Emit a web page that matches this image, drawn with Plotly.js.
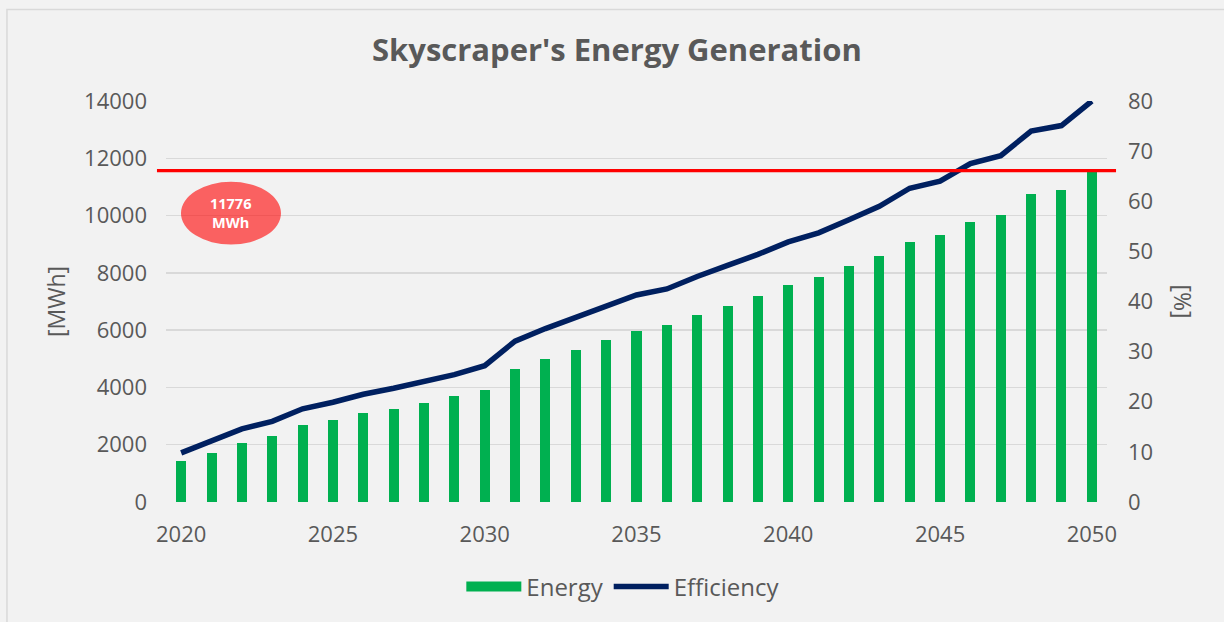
<!DOCTYPE html>
<html>
<head>
<meta charset="utf-8">
<script src="https://cdn.plot.ly/plotly-3.0.1.min.js"></script>
<style>
html,body{margin:0;padding:0;background:#f2f2f2;}
#chart{width:1224px;height:622px;}
</style>
</head>
<body>
<div id="chart"></div>
<script>
const years = [2020,2021,2022,2023,2024,2025,2026,2027,2028,2029,2030,2031,2032,2033,2034,2035,2036,2037,2038,2039,2040,2041,2042,2043,2044,2045,2046,2047,2048,2049,2050];
const energy = [1430,1720,2050,2310,2680,2870,3100,3250,3470,3715,3925,4630,5010,5320,5670,5980,6180,6545,6845,7180,7575,7860,8240,8580,9065,9305,9765,10035,10750,10910,11570];
const efficiency = [9.8,12.2,14.6,16.1,18.6,19.9,21.5,22.7,24.1,25.4,27.2,32.1,34.6,36.9,39.2,41.3,42.5,45.0,47.2,49.4,51.9,53.7,56.3,59.0,62.6,64.0,67.5,69.1,74.0,75.1,80.0];
const targetLabel = "11776<br>MWh";
const targetValue = energy[energy.length - 1];

const FONT = "'Open Sans', 'Noto Sans', sans-serif";
const GREY = "#595959";
const GREEN = "#00b050";

const traces = [
  {
    type: "bar", name: "Energy", x: years, y: energy,
    marker: {color: GREEN}, width: 0.33, yaxis: "y", showlegend: false
  },
  {
    type: "scatter", mode: "lines", name: "Energy", x: [null], y: [null],
    line: {color: GREEN, width: 12}, yaxis: "y", showlegend: true
  },
  {
    type: "scatter", mode: "lines", name: "Efficiency", x: years, y: efficiency,
    line: {color: "#002060", width: 5.5}, yaxis: "y2"
  }
];

const layout = {
  width: 1224, height: 622,
  paper_bgcolor: "#f2f2f2", plot_bgcolor: "#f2f2f2",
  margin: {l: 166, r: 117, t: 101, b: 116.5},
  font: {family: FONT, color: GREY, size: 22},
  showlegend: true,
  title: {
    text: "<b>Skyscraper's Energy Generation</b>",
    font: {family: FONT, size: 31, color: GREY},
    x: 0.504, xanchor: "center", y: 0.92, yanchor: "middle"
  },
  xaxis: {
    range: [2019.5, 2050.5], tickmode: "array", tickvals: [2020,2025,2030,2035,2040,2045,2050],
    showgrid: false, zeroline: false, showline: false, ticks: "",
    tickfont: {family: FONT, size: 22, color: GREY}, ticklabelstandoff: 17
  },
  yaxis: {
    range: [0, 14000], dtick: 2000, gridcolor: "#d9d9d9", gridwidth: 1.3,
    zeroline: false, showline: false, ticks: "", tickformat: "d",
    tickfont: {family: FONT, size: 22, color: GREY}, ticklabelstandoff: 18,
    title: {text: "[MWh]", font: {family: FONT, size: 23, color: GREY}, standoff: 12}
  },
  yaxis2: {
    range: [0, 80], dtick: 10, overlaying: "y", side: "right",
    showgrid: false, zeroline: false, showline: false, ticks: "",
    tickfont: {family: FONT, size: 22, color: GREY}, ticklabelstandoff: 20
  },
  bargap: 0,
  legend: {
    orientation: "h", x: 0.486, xanchor: "center", y: -0.212, yanchor: "middle",
    font: {family: FONT, size: 24, color: GREY}, bgcolor: "rgba(0,0,0,0)",
    itemwidth: 55, tracegroupgap: 0
  },
  shapes: [
    {type: "path", xref: "paper", yref: "paper",
     path: "M -0.169,-0.3 L -0.169,1.228 L 1.2,1.228",
     line: {color: "#d9d9d9", width: 1.5}},
    {type: "line", xref: "paper", yref: "y", x0: -0.0096, x1: 1.0096, y0: targetValue, y1: targetValue,
     line: {color: "#ff0000", width: 3.3}, layer: "above"},
    {type: "circle", xref: "paper", yref: "paper", x0: 0.0159, x1: 0.1222, y0: 0.642, y1: 0.7986,
     fillcolor: "rgba(255,0,0,0.6)", line: {width: 0}, layer: "above"}
  ],
  annotations: [
    {xref: "paper", yref: "paper", x: 0.069, y: 0.721, xanchor: "center", yanchor: "middle",
     text: "<b>" + targetLabel + "</b>",
     showarrow: false, font: {family: FONT, size: 14.5, color: "#ffffff"}, align: "center"},
    {xref: "paper", yref: "paper", x: 1.0808, y: 0.5, xanchor: "center", yanchor: "middle",
     text: "[%]", textangle: 90,
     showarrow: false, font: {family: FONT, size: 23, color: GREY}}
  ]
};

Plotly.newPlot("chart", traces, layout, {displayModeBar: false, staticPlot: true});
</script>
</body>
</html>
